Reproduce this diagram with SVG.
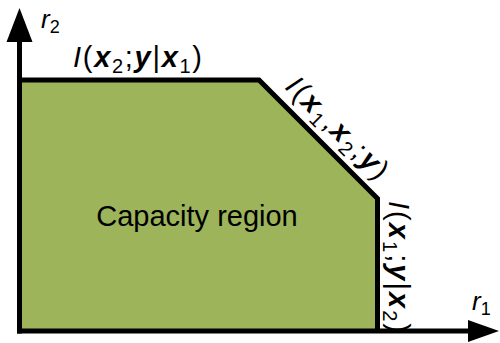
<svg xmlns="http://www.w3.org/2000/svg" width="500" height="343" viewBox="0 0 500 343">
<style>
text{font-family:"Liberation Sans",Arial,Helvetica,sans-serif;fill:#000}
.lbl{font-size:29px}
.it{font-style:italic}
.bi{font-style:italic;font-weight:bold}
.sub{font-size:20px}
.ax{stroke:#000;stroke-width:5;fill:none}
</style>
<rect width="500" height="343" fill="#fff"/>
<g id="region">
<polygon points="19.5,80 259,80 377.5,198.5 377.5,331 19.5,331" fill="#9DB45A"/>
<polyline class="ax" points="19.5,80 259,80 377.5,198.5 377.5,331" stroke-linejoin="miter"/>
<text class="lbl" x="197" y="226" text-anchor="middle">Capacity region</text>
</g>
<g id="connectors">
<line class="ax" x1="19.5" y1="333.5" x2="19.5" y2="40"/>
<polygon points="19.5,8 6.5,42 32.5,42" fill="#000"/>
<line class="ax" x1="17" y1="331" x2="470" y2="331"/>
<polygon points="499,331 468,320 468,342" fill="#000"/>
</g>
<g id="label-r2">
<text x="41" y="28" style="font-size:26px"><tspan class="it">r</tspan><tspan style="font-size:18px" dy="5">2</tspan></text>
</g>
<g id="label-r1">
<text x="472" y="310" style="font-size:26px"><tspan class="it">r</tspan><tspan style="font-size:18px" dy="5">1</tspan></text>
</g>
<g id="label-top">
<text class="lbl" x="73" y="67" textLength="129" lengthAdjust="spacing"><tspan class="it">I</tspan>(<tspan class="bi">x</tspan><tspan class="sub" dy="6">2</tspan><tspan dy="-6">;</tspan><tspan class="bi">y</tspan>|<tspan class="bi">x</tspan><tspan class="sub" dy="6">1</tspan><tspan dy="-6">)</tspan></text>
</g>
<g id="label-diag">
<text class="lbl" x="-65" y="0" textLength="132" lengthAdjust="spacing" transform="translate(330,134) rotate(45)"><tspan class="it">I</tspan>(<tspan class="bi">x</tspan><tspan class="sub" dy="6">1</tspan><tspan dy="-6">,</tspan><tspan class="bi">x</tspan><tspan class="sub" dy="6">2</tspan><tspan dy="-6">;</tspan><tspan class="bi">y</tspan>)</text>
</g>
<g id="label-vert">
<text class="lbl" x="-65" y="0" textLength="132" lengthAdjust="spacing" transform="translate(389,266) rotate(90)"><tspan class="it">I</tspan>(<tspan class="bi">x</tspan><tspan class="sub" dy="6">1</tspan><tspan dy="-6">;</tspan><tspan class="bi">y</tspan>|<tspan class="bi">x</tspan><tspan class="sub" dy="6">2</tspan><tspan dy="-6">)</tspan></text>
</g>
</svg>
